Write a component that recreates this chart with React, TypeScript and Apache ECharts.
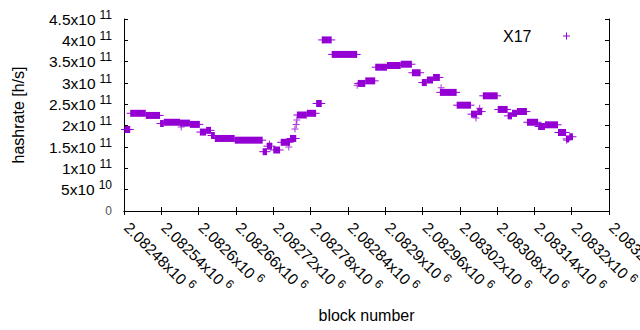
import React, { useEffect, useRef } from "react";
import * as echarts from "echarts";

// Difficulty plateaus (first block, last block, hashrate in h/s)
const plateauStart = [
  2082481, 2082490, 2082515, 2082538, 2082544, 2082570, 2082586, 2082602, 2082612, 2082620,
  2082626, 2082658, 2082703, 2082710, 2082720, 2082732, 2082747, 2082758, 2082774, 2082789,
  2082798, 2082814, 2082856, 2082868, 2082884, 2082903, 2082925, 2082943, 2082959, 2082967,
  2082977, 2082988, 2083015, 2083038, 2083048, 2083057, 2083081, 2083097, 2083104, 2083112,
  2083128, 2083146, 2083157, 2083178, 2083191, 2083196,
];
const plateauEnd = [
  2082490, 2082515, 2082538, 2082544, 2082570, 2082586, 2082602, 2082612, 2082620, 2082626,
  2082658, 2082703, 2082710, 2082718, 2082731, 2082747, 2082757, 2082774, 2082789, 2082798,
  2082814, 2082855, 2082868, 2082884, 2082903, 2082925, 2082943, 2082957, 2082967, 2082977,
  2082988, 2083015, 2083038, 2083048, 2083056, 2083081, 2083097, 2083104, 2083112, 2083128,
  2083146, 2083157, 2083178, 2083191, 2083196, 2083202,
];
const plateauHashrate = [
  1.91e11, 2.29e11, 2.24e11, 2.05e11, 2.08e11, 2.06e11, 2.03e11, 1.85e11, 1.89e11, 1.77e11,
  1.70e11, 1.66e11, 1.39e11, 1.52e11, 1.43e11, 1.61e11, 1.70e11, 2.25e11, 2.29e11, 2.52e11,
  4.01e11, 3.67e11, 2.99e11, 3.05e11, 3.37e11, 3.41e11, 3.44e11, 3.24e11, 3.01e11, 3.07e11,
  3.13e11, 2.78e11, 2.48e11, 2.27e11, 2.33e11, 2.70e11, 2.38e11, 2.23e11, 2.29e11, 2.33e11,
  2.08e11, 1.98e11, 2.02e11, 1.84e11, 1.69e11, 1.74e11,
];

// Isolated blocks
const looseBlock = [
  2082572, 2082714, 2082745, 2082755, 2082757, 2082758, 2082855, 2082990, 2083046, 2083052,
  2083148, 2083192,
];
const looseHashrate = [
  1.97e11, 1.57e11, 1.50e11, 1.92e11, 2.03e11, 2.13e11, 2.95e11, 2.89e11, 2.18e11, 2.41e11,
  1.99e11, 1.66e11,
];

const seriesName = "X17";
const xMin = 2082480;
const xMax = 2083260;
const xStep = 60;
const yMin = 0;
const yMax = 4.5e11;
const yStep = 5e10;

const COLOR = "#9400d3";
const FONT = "'Liberation Sans', Arial, sans-serif";
const PLUS = "path://M3,0H4V3H7V4H4V7H3V4H0V3H3Z";

function sci(v: number): string {
  if (v === 0) return "0";
  const e = Math.floor(Math.log10(Math.abs(v)) + 1e-9);
  const m = parseFloat((v / Math.pow(10, e)).toPrecision(7));
  return `{m|${m}x10}{e|${e}}`;
}

const supStyle = {
  fontSize: 12,
  fontFamily: FONT,
  color: "#000",
  verticalAlign: "bottom",
  padding: [0, 0, 9, 4],
};
const yRich = {
  m: { fontSize: 15.5, fontFamily: FONT, color: "#000", verticalAlign: "middle" },
  e: supStyle,
};
const xRich = {
  m: { fontSize: 15.5, fontFamily: FONT, color: "#000", verticalAlign: "middle", padding: [0, 0, 0, 4] },
  e: supStyle,
};

export default function App() {
  const ref = useRef<HTMLDivElement>(null);
  useEffect(() => {
    if (!ref.current) return;
    const chart = echarts.init(ref.current, null, { renderer: "svg" });
    const segData = plateauStart.map((s, i) => [s, plateauEnd[i], plateauHashrate[i]]);
    const ptData = looseBlock.map((b, i) => [b, looseHashrate[i]]);
    const tickStyle = { show: true, inside: true, length: 4, lineStyle: { color: "#000", width: 1 } };
    const lineStyle = { show: true, lineStyle: { color: "#000", width: 1 } };
    chart.setOption({
      animation: false,
      textStyle: { fontFamily: FONT },
      grid: {
        left: 124,
        right: 31,
        top: 19,
        bottom: 119,
        containLabel: false,
        outerBoundsMode: "none",
      },
      legend: {
        right: 65,
        top: 23,
        align: "right",
        itemWidth: 60,
        itemHeight: 7,
        selectedMode: false,
        textStyle: { fontSize: 16, color: "#000", fontFamily: FONT },
        data: [{ name: seriesName, icon: PLUS }],
      },
      xAxis: [
        {
          type: "value",
          min: xMin,
          max: xMax,
          interval: xStep,
          position: "bottom",
          axisLine: lineStyle,
          axisTick: tickStyle,
          splitLine: { show: false },
          axisLabel: {
            rotate: -45,
            margin: 11,
            showMaxLabel: true,
            formatter: (v: number) => sci(v),
            rich: xRich,
          },
          name: "block number",
          nameLocation: "middle",
          nameGap: 96,
          nameTextStyle: { fontSize: 16, color: "#000", fontFamily: FONT },
        },
        {
          type: "value",
          min: xMin,
          max: xMax,
          interval: xStep,
          position: "top",
          axisLine: lineStyle,
          axisTick: tickStyle,
          axisLabel: { show: false },
          splitLine: { show: false },
        },
      ],
      yAxis: [
        {
          type: "value",
          min: yMin,
          max: yMax,
          interval: yStep,
          position: "left",
          axisLine: lineStyle,
          axisTick: tickStyle,
          splitLine: { show: false },
          axisLabel: { margin: 12, formatter: (v: number) => sci(v), rich: yRich },
          name: "hashrate [h/s]",
          nameLocation: "middle",
          nameGap: 98,
          nameTextStyle: { fontSize: 16, color: "#000", fontFamily: FONT },
        },
        {
          type: "value",
          min: yMin,
          max: yMax,
          interval: yStep,
          position: "right",
          axisLine: lineStyle,
          axisTick: tickStyle,
          axisLabel: { show: false },
          splitLine: { show: false },
        },
      ],
      series: [
        {
          name: seriesName,
          type: "custom",
          xAxisIndex: 0,
          yAxisIndex: 0,
          itemStyle: { color: COLOR },
          encode: { x: [0, 1], y: 2 },
          data: segData,
          renderItem: (params: any, api: any) => {
            const a = api.coord([api.value(0), api.value(2)]);
            const b = api.coord([api.value(1), api.value(2)]);
            return {
              type: "group",
              children: [
                {
                  type: "rect",
                  shape: { x: a[0], y: a[1] - 3.5, width: Math.max(b[0] - a[0], 1), height: 7 },
                  style: { fill: COLOR },
                },
                {
                  type: "line",
                  shape: { x1: a[0] - 3.5, y1: a[1], x2: b[0] + 3.5, y2: b[1] },
                  style: { stroke: COLOR, lineWidth: 1 },
                },
              ],
            };
          },
        },
        {
          name: seriesName,
          type: "scatter",
          xAxisIndex: 0,
          yAxisIndex: 0,
          symbol: PLUS,
          symbolSize: 7,
          itemStyle: { color: COLOR },
          data: ptData,
        },
      ],
    });
    return () => chart.dispose();
  }, []);
  return (
    <div
      ref={ref}
      style={{ position: "fixed", left: 0, top: 0, width: 640, height: 330, background: "#fff" }}
    />
  );
}
